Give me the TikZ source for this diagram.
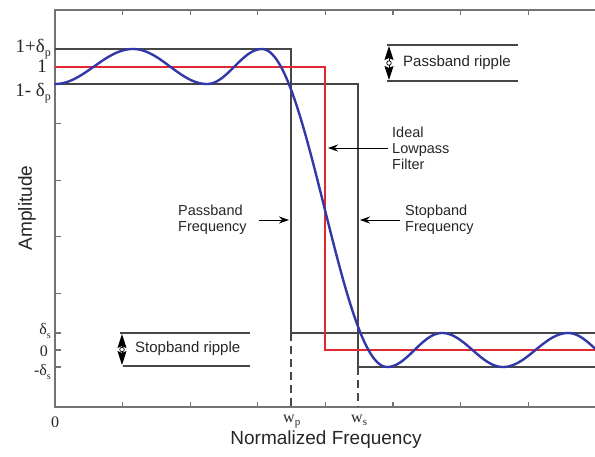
\documentclass[tikz,border=0pt]{standalone}
\usepackage{fontspec}
\setmainfont{Liberation Serif}
\setsansfont{Liberation Sans}
\usetikzlibrary{arrows.meta}

\definecolor{axisgray}{RGB}{115,115,115}
\definecolor{boxgray}{RGB}{70,70,70}
\definecolor{idealred}{RGB}{228,40,50}
\definecolor{respblue}{RGB}{50,56,168}

% lowered subscript: #1 drop, #2 size, #3 text
\newcommand{\lowsub}[3]{\raisebox{-#1}{\fontsize{#2}{#2}\selectfont #3}}

\begin{document}
\begin{tikzpicture}[x=1pt,y=-1pt,
  frame/.style={draw=axisgray, line width=1.3pt},
  bound/.style={draw=boxgray, line width=1.2pt},
  guide/.style={draw=boxgray, line width=1.2pt, dash pattern=on 8pt off 5pt},
  ideal/.style={draw=idealred, line width=1.2pt},
  resp/.style={draw=respblue, line width=2.4pt, line cap=round},
  rule/.style={draw=boxgray, line width=1.1pt},
  pointer/.style={draw=black, line width=0.9pt, -{Stealth[length=10pt,width=7pt]}},
  twohead/.style={draw=black, line width=1pt,
    {Stealth[length=14pt,width=9pt,inset=2pt]}-{Stealth[length=14pt,width=9pt,inset=2pt]}},
  hub/.style={circle, draw=black, fill=white, line width=0.7pt, minimum size=4.5pt, inner sep=0pt},
  note/.style={font=\sffamily\fontsize{14.5}{16}\selectfont, inner sep=2pt, align=left, text=black!85},
  axlbl/.style={font=\sffamily\fontsize{19}{19}\selectfont, inner sep=0pt, text=black!85},
  bigtick/.style={font=\fontsize{19}{19}\selectfont, inner sep=0pt, text=black!85},
  smalltick/.style={font=\fontsize{16}{16}\selectfont, inner sep=0pt, text=black!85},
]
\useasboundingbox (0,0) rectangle (595,457);

% plot frame with ticks
\draw[frame] (595,10) -- (55,10) -- (55,407) -- (595,407);
\foreach \i in {1,...,7} {
  \draw[frame] ({55+67.6*\i},407) -- ++(0,-5);
  \draw[frame] ({55+67.6*\i},10) -- ++(0,5);
}
\foreach \yy in {49,67,84,123.6,180.2,236.8,293.4,333,350,367}
  \draw[frame] (55,\yy) -- ++(6,0);

% tolerance bounds
\draw[bound] (55,49) -- (291,49) -- (291,333) -- (595,333);
\draw[bound] (55,84) -- (358,84) -- (358,367) -- (595,367);
\draw[guide] (291,333) -- (291,407);
\draw[guide] (358,367) -- (358,407);

% ideal lowpass response
\draw[ideal] (55,67) -- (325,67) -- (325,350) -- (595,350);

% equiripple response, built from half-cosine pieces between extrema
\foreach \xa/\ya/\xb/\yb in {55/84/133/49, 133/49/207/84, 207/84/262/49,
    262/49/387/367, 387/367/442/333, 442/333/503/367, 503/367/568/333}
  \draw[resp] plot[domain=\xa:\xb, samples=50]
    (\x, {(\ya+\yb)/2 + (\ya-\yb)/2*cos(180/(\xb-\xa)*(\x-\xa))});
\draw[resp] plot[domain=568:595, samples=20]
    (\x, {350 - 17*cos(180/57*(\x-568))});

% amplitude tick labels
\node[bigtick, anchor=base east] (lab1p) at (51,53) {1+δ\lowsub{4pt}{12}{p}};
\node[bigtick, anchor=base east] (lab1) at (47,73) {1};
\node[bigtick, anchor=base east] (lab1m) at (51,97) {1- δ\lowsub{4pt}{12}{p}};
\node[smalltick, anchor=base east] (labds) at (51,335) {δ\lowsub{3pt}{10}{s}};
\node[smalltick, anchor=base east] (lab0) at (48,356) {0};
\node[smalltick, anchor=base east] (labmds) at (51,376) {-δ\lowsub{3pt}{10}{s}};

% frequency tick labels
\node[smalltick, anchor=base] (labx0) at (55,427) {0};
\node[smalltick, anchor=base west] (labwp) at (283,422) {w\lowsub{3pt}{11}{p}};
\node[smalltick, anchor=base west] (labws) at (351,422) {w\lowsub{3pt}{11}{s}};

% axis titles
\node[axlbl] (xtitle) at (326,440) {Normalized Frequency};
\node[axlbl, rotate=90] (ytitle) at (27,208) {Amplitude};

% passband ripple marker
\draw[rule] (387,45) -- (518,45);
\draw[rule] (387,81) -- (518,81);
\node[note, anchor=west, font=\sffamily\fontsize{15}{16}\selectfont] (prip) at (401,63) {Passband ripple};
\coordinate (prtop) at (389,46);
\coordinate (prbot) at (389,80);
\draw[twohead] (prtop) -- (prbot);
\node[hub] (prdot) at (389,63) {};

% stopband ripple marker
\draw[rule] (120,333) -- (250,333);
\draw[rule] (123,366) -- (250,366);
\node[note, anchor=west, font=\sffamily\fontsize{15}{16}\selectfont] (srip) at (133,349) {Stopband ripple};
\coordinate (srtop) at (122,334);
\coordinate (srbot) at (122,365);
\draw[twohead] (srtop) -- (srbot);
\node[hub] (srdot) at (122,349.5) {};

% callouts
\node[note, anchor=west] (idl) at (390,148) {Ideal\\Lowpass\\Filter};
\coordinate (idltip) at (328,148);
\draw[pointer, shorten <=2pt] (idl.west) -- (idltip);

\node[note, anchor=west] (pfreq) at (176,220) {Passband\\Frequency};
\coordinate (pftip) at (289,220);
\draw[pointer, shorten <=10pt] (pfreq.east) -- (pftip);

\node[note, anchor=west] (sfreq) at (403,220) {Stopband\\Frequency};
\coordinate (sftip) at (360,220);
\draw[pointer, shorten <=3pt] (sfreq.west) -- (sftip);
\end{tikzpicture}
\end{document}
